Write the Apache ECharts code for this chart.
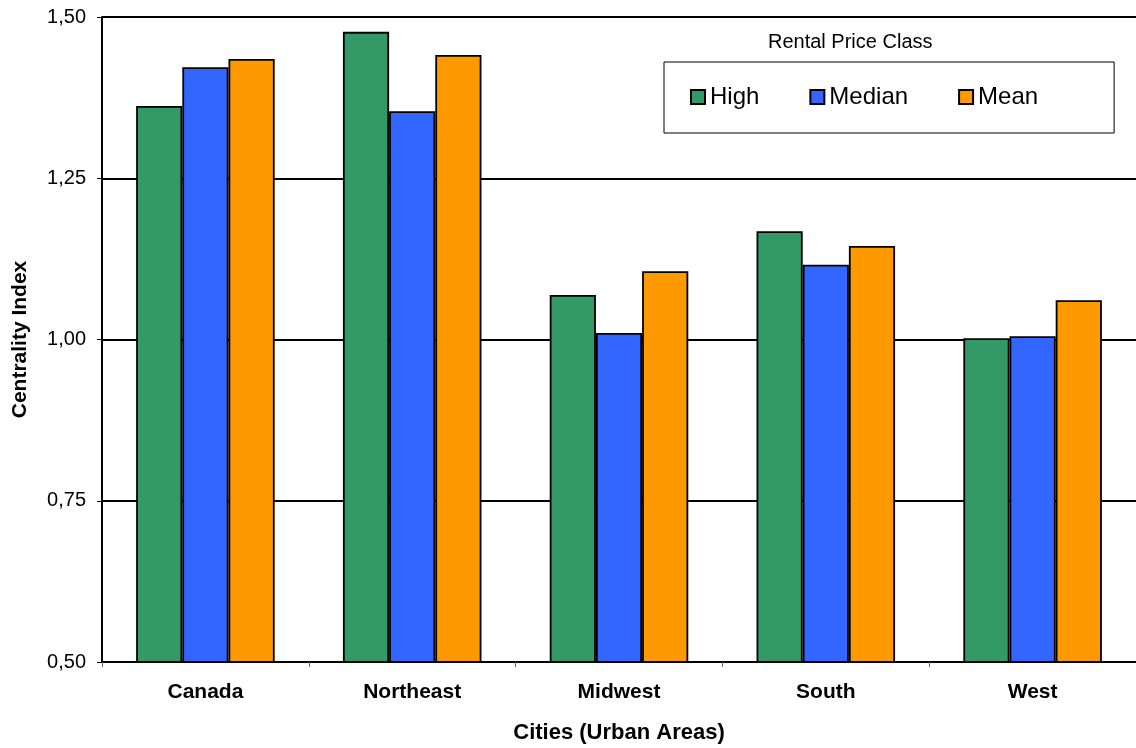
<!DOCTYPE html>
<html>
<head>
<meta charset="utf-8">
<script src="https://cdn.jsdelivr.net/npm/echarts@6/dist/echarts.min.js"></script>
<style>
    html, body { margin: 0; padding: 0; background: #fff; }
    #chart { width: 1136px; height: 748px; }
</style>
</head>
<body>
<div id="chart"></div>
<script>
// Centrality index by region and rental price class
const regions = ['Canada', 'Northeast', 'Midwest', 'South', 'West'];
const highValues = [1.362, 1.477, 1.069, 1.168, 1.002];
const medianValues = [1.422, 1.354, 1.010, 1.116, 1.005];
const meanValues = [1.435, 1.441, 1.106, 1.145, 1.061];

const COLORS = {
    high: '#339966',
    median: '#3366ff',
    mean: '#ff9900'
};

const FONT = '"Liberation Sans", Arial, sans-serif';

const barSeries = (name, data, color) => ({
    name: name,
    type: 'bar',
    data: data,
    barGap: '0%',
    barCategoryGap: '33%',
    itemStyle: {
        color: color,
        borderColor: '#000',
        borderWidth: 1.8
    }
});

const chart = echarts.init(document.getElementById('chart'));
chart.setOption({
    animation: false,
    textStyle: { fontFamily: FONT },
    title: {
        text: 'Rental Price Class',
        left: 763,
        top: 27,
        textStyle: { fontSize: 20, fontWeight: 'normal', color: '#000', fontFamily: FONT }
    },
    legend: {
        left: 664,
        top: 62,
        padding: [23, 76, 24, 26],
        itemGap: 50,
        itemWidth: 14,
        itemHeight: 14,
        borderColor: '#000',
        borderWidth: 1,
        icon: 'rect',
        textStyle: { fontSize: 24, color: '#000', fontFamily: FONT },
        data: ['High', 'Median', 'Mean']
    },
    grid: {
        left: 102,
        right: 0,
        top: 17,
        bottom: 86,
        outerBoundsMode: 'none'
    },
    xAxis: {
        type: 'category',
        data: regions,
        name: 'Cities (Urban Areas)',
        nameLocation: 'middle',
        nameGap: 60,
        nameTextStyle: { fontSize: 22, fontWeight: 'bold', color: '#000', fontFamily: FONT },
        axisLine: { lineStyle: { color: '#000', width: 2 } },
        axisTick: { show: true, length: 5, lineStyle: { color: '#666' } },
        axisLabel: { fontSize: 21, fontWeight: 'bold', color: '#000', margin: 20 }
    },
    yAxis: {
        type: 'value',
        min: 0.5,
        max: 1.5,
        interval: 0.25,
        name: 'Centrality Index',
        nameLocation: 'middle',
        nameRotate: 90,
        nameGap: 71,
        nameTextStyle: { fontSize: 21, fontWeight: 'bold', color: '#000', fontFamily: FONT },
        axisLine: { show: true, lineStyle: { color: '#000', width: 2 } },
        axisTick: { show: true, length: 5, lineStyle: { color: '#000' } },
        axisLabel: {
            fontSize: 20,
            color: '#000',
            margin: 16,
            formatter: v => v.toFixed(2).replace('.', ',')
        },
        splitLine: { show: true, lineStyle: { color: '#000', width: 2 } }
    },
    series: [
        barSeries('High', highValues, COLORS.high),
        barSeries('Median', medianValues, COLORS.median),
        barSeries('Mean', meanValues, COLORS.mean)
    ]
});
</script>
</body>
</html>
